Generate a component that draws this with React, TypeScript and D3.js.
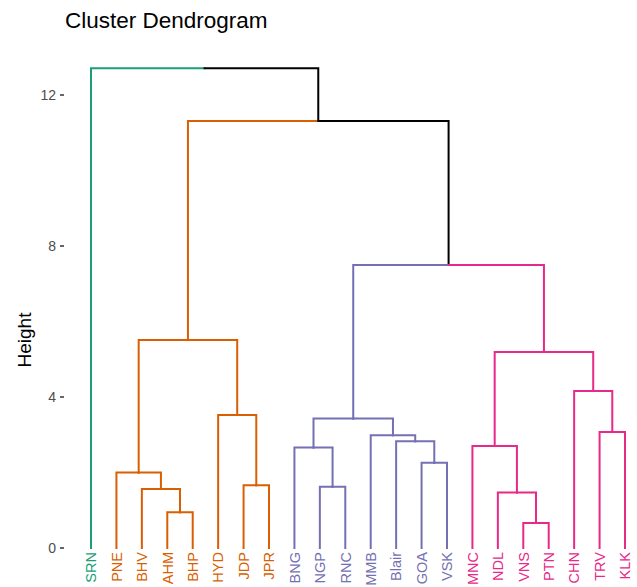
import React, { useEffect, useRef } from 'react'
import * as d3 from 'd3'

// leaf order as drawn, left to right
const leafLabels = ['SRN', 'PNE', 'BHV', 'AHM', 'BHP', 'HYD', 'JDP', 'JPR', 'BNG', 'NGP', 'RNC', 'MMB', 'Blair', 'GOA', 'VSK', 'MNC', 'NDL', 'VNS', 'PTN', 'CHN', 'TRV', 'KLK']
const leafCluster = [0, 1, 1, 1, 1, 1, 1, 1, 2, 2, 2, 2, 2, 2, 2, 3, 3, 3, 3, 3, 3, 3]
const clusterColors = ['#1B9E77', '#D95F02', '#7570B3', '#E7298A']

// hclust-style merge table: negative = leaf (1-based), positive = earlier merge row
const mergeLeft = [-4, -18, -3, -17, -10, -7, -2, -14, -9, -16, -13, -12, -21, 9, -6, -20, 10, 7, 14, 18, -1]
const mergeRight = [-5, -19, 1, 2, -11, -8, 3, -15, 5, 4, 8, 11, -22, 12, 6, 13, 16, 15, 17, 19, 20]
const mergeHeight = [0.95, 0.66, 1.56, 1.47, 1.62, 1.66, 2.0, 2.26, 2.66, 2.7, 2.83, 2.99, 3.07, 3.43, 3.52, 4.16, 5.19, 5.51, 7.5, 11.31, 12.71]

const yTicks = [0, 4, 8, 12]

type Node = { name?: string; leaf?: number; height: number; children?: Node[] }

function buildTree(): Node {
  const rows: Node[] = []
  const ref = (v: number): Node => (v < 0 ? { name: leafLabels[-v - 1], leaf: -v - 1, height: 0 } : rows[v - 1])
  mergeLeft.forEach((l, i) => {
    rows.push({ height: mergeHeight[i], children: [ref(l), ref(mergeRight[i])] })
  })
  return rows[rows.length - 1]
}

const App = () => {
  const ref = useRef<HTMLDivElement>(null)

  useEffect(() => {
    const width = 637
    const height = 587
    const font = '"Liberation Sans", Arial, sans-serif'

    // no page margin / scrollbars eating into the picture
    document.body.style.margin = '0'
    document.body.style.overflow = 'hidden'

    const container = d3.select(ref.current)
    container.selectAll('*').remove()

    const svg = container
      .append('svg')
      .attr('width', width)
      .attr('height', height)
      .style('display', 'block')
      .style('font-family', font)

    const x = d3.scaleLinear().domain([0, leafLabels.length - 1]).range([91, 625])
    const y = d3.scaleLinear().domain([0, 12]).range([548, 95])

    const root = d3.hierarchy(buildTree())

    // position: leaves by order, parents at mean of children
    root.eachAfter((d: any) => {
      if (!d.children) {
        d.px = x(d.data.leaf)
        d.cluster = leafCluster[d.data.leaf]
      } else {
        d.px = d3.mean(d.children, (c: any) => c.px)
        const cl = d.children.map((c: any) => c.cluster)
        d.cluster = cl.every((c: number) => c === cl[0]) ? cl[0] : -1
      }
      d.py = y(d.data.height)
    })

    const colorOf = (c: number) => (c < 0 ? '#000000' : clusterColors[c])

    svg
      .append('g')
      .selectAll('path')
      .data(root.descendants().filter((d) => d.parent))
      .enter()
      .append('path')
      .attr('d', (d: any) => `M${d.px},${d.py}V${d.parent.py}H${d.parent.px}`)
      .attr('fill', 'none')
      .attr('stroke', (d: any) => colorOf(d.cluster))
      .attr('stroke-width', 2)
      .attr('stroke-linecap', 'square')

    // leaf labels
    svg
      .append('g')
      .selectAll('text')
      .data(root.leaves())
      .enter()
      .append('text')
      .attr('transform', (d: any) => `translate(${d.px},${552}) rotate(-90)`)
      .attr('text-anchor', 'end')
      .attr('dy', '0.36em')
      .attr('font-size', 14.5)
      .attr('fill', (d: any) => colorOf(d.cluster))
      .text((d: any) => d.data.name)

    // y axis
    const axis = svg.append('g')
    axis
      .selectAll('line')
      .data(yTicks)
      .enter()
      .append('line')
      .attr('x1', 60)
      .attr('x2', 64)
      .attr('y1', (d) => y(d))
      .attr('y2', (d) => y(d))
      .attr('stroke', '#333333')
      .attr('stroke-width', 1.5)
    axis
      .selectAll('text')
      .data(yTicks)
      .enter()
      .append('text')
      .attr('x', 56)
      .attr('y', (d) => y(d))
      .attr('dy', '0.36em')
      .attr('text-anchor', 'end')
      .attr('font-size', 14)
      .attr('fill', '#4D4D4D')
      .text((d) => d)

    svg
      .append('text')
      .attr('transform', `translate(31,340) rotate(-90)`)
      .attr('text-anchor', 'middle')
      .attr('font-size', 19)
      .attr('fill', '#000000')
      .text('Height')

    svg
      .append('text')
      .attr('x', 65)
      .attr('y', 28)
      .attr('font-size', 22.5)
      .attr('fill', '#000000')
      .text('Cluster Dendrogram')

    return () => {
      container.selectAll('*').remove()
    }
  }, [])

  return <div ref={ref}></div>
}

export default App
